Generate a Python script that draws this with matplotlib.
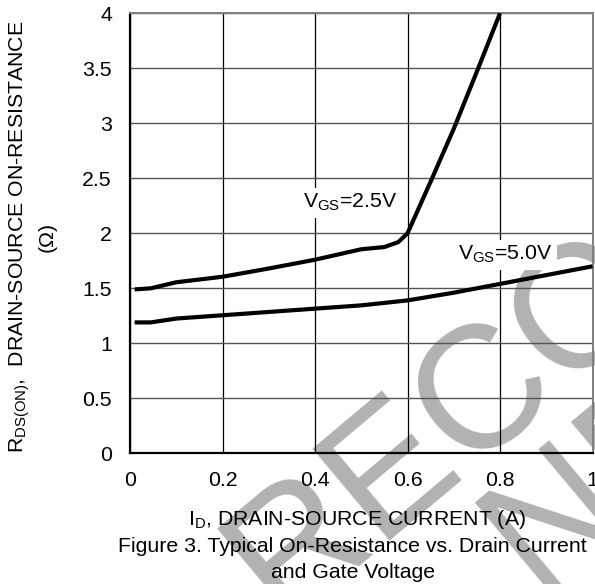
import numpy as np
import matplotlib
matplotlib.use("Agg")
import matplotlib.pyplot as plt

plt.rcParams['font.family'] = ['Liberation Sans', 'DejaVu Sans']
plt.rcParams['mathtext.fontset'] = 'custom'
plt.rcParams['mathtext.rm'] = 'Liberation Sans'
plt.rcParams['mathtext.it'] = 'Liberation Sans'

# drain current (A) vs on-resistance (ohm)
id_25 = [0.01, 0.045, 0.1, 0.2, 0.3, 0.4, 0.5, 0.55, 0.58, 0.6, 0.65, 0.7, 0.75, 0.8]
rds_25 = [1.49, 1.50, 1.555, 1.605, 1.68, 1.76, 1.855, 1.875, 1.92, 2.0, 2.47, 2.95, 3.47, 4.0]

id_50 = [0.01, 0.045, 0.1, 0.2, 0.3, 0.4, 0.5, 0.6, 0.7, 0.8, 0.9, 1.0]
rds_50 = [1.19, 1.19, 1.225, 1.255, 1.285, 1.315, 1.345, 1.39, 1.46, 1.54, 1.62, 1.70]

xticks = [0, 0.2, 0.4, 0.6, 0.8, 1.0]
xticklabels = ['0', '0.2', '0.4', '0.6', '0.8', '1']
yticks = [0, 0.5, 1, 1.5, 2, 2.5, 3, 3.5, 4]
yticklabels = ['0', '0.5', '1', '1.5', '2', '2.5', '3', '3.5', '4']

fs = 15.3
gray = '#b2b2b2'

fig = plt.figure(figsize=(5.95, 5.84), dpi=100)

# watermark behind everything
wm = dict(fontsize=125, color=gray, rotation=40, rotation_mode='anchor',
          ha='left', va='baseline', zorder=-5)
fig.text(0.471, -0.062, 'RECOMMENDED', **wm)
fig.text(0.911, -0.033, 'NEW DESIGN', **wm)

ax = fig.add_axes([0.2185, 0.2238, 0.7773, 0.7534])
ax.patch.set_alpha(0)

ax.plot(id_25, rds_25, color='black', lw=3.0, solid_joinstyle='round', solid_capstyle='butt', zorder=4)
ax.plot(id_50, rds_50, color='black', lw=3.0, solid_joinstyle='round', solid_capstyle='butt', zorder=4)

ax.set_xlim(0, 1)
ax.set_ylim(0, 4)
ax.set_xticks(xticks)
ax.set_xticklabels(xticklabels)
ax.set_yticks(yticks)
ax.set_yticklabels(yticklabels)
ax.tick_params(length=0, labelsize=fs, pad=13)
ax.grid(axis='x', color='black', lw=0.9)
ax.grid(axis='y', color='#555555', lw=1.0)

for s in ['left', 'bottom']:
    ax.spines[s].set_linewidth(1.6)
    ax.spines[s].set_color('black')
for s in ['top', 'right']:
    ax.spines[s].set_linewidth(1.4)
    ax.spines[s].set_color('#808080')

box = dict(facecolor='white', edgecolor='none', pad=3)
ax.text(0.374, 2.23, r'V$_{\mathrm{GS}}$=2.5V', fontsize=fs, va='baseline', bbox=box, zorder=5)
ax.text(0.709, 1.757, r'V$_{\mathrm{GS}}$=5.0V', fontsize=fs, va='baseline', bbox=box, zorder=5)

# axis titles and caption
fig.text(0.034, 0.594, r'R$_{\mathrm{DS(ON)}}$,  DRAIN-SOURCE ON-RESISTANCE',
         rotation=90, ha='center', va='center', fontsize=fs)
fig.text(0.079, 0.594, '(\u03a9)', rotation=90, ha='center', va='center', fontsize=fs)

fig.text(0.6, 1 - 525 / 584, r'I$_{\mathrm{D}}$, DRAIN-SOURCE CURRENT (A)',
         ha='center', va='baseline', fontsize=fs)
fig.text(0.593, 1 - 552 / 584, 'Figure 3. Typical On-Resistance vs. Drain Current',
         ha='center', va='baseline', fontsize=fs)
fig.text(0.593, 1 - 578 / 584, 'and Gate Voltage',
         ha='center', va='baseline', fontsize=fs)

plt.savefig('out.png', dpi=100)
